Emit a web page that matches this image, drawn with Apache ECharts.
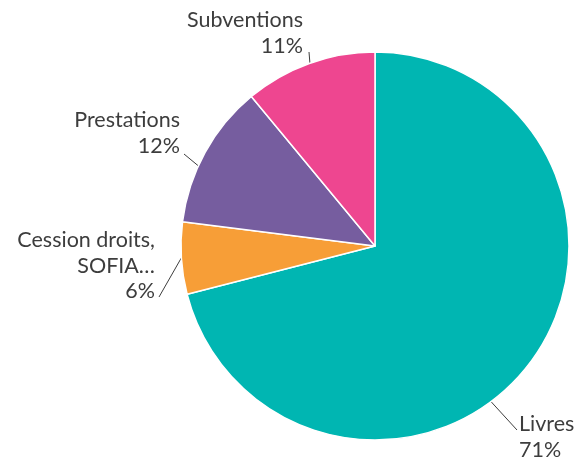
<!DOCTYPE html>
<html>
<head>
<meta charset="utf-8">
<script src="https://cdn.jsdelivr.net/npm/echarts@6/dist/echarts.min.js"></script>
<style>
html,body{margin:0;padding:0;background:#fff;}
#chart{width:574px;height:457px;}
</style>
</head>
<body>
<div id="chart"></div>
<script>
// Data
var categories = ['Livres', 'Cession droits,\nSOFIA…', 'Prestations', 'Subventions'];
var values = [71, 6, 12, 11];
var colors = ['#00B6B2', '#F79E37', '#765D9F', '#EE4690'];

// Layout
var CX = 375, CY = 246, R = 194;
// label text anchor, and guide line: angle on the rim (deg, math convention) + end offset from label anchor
var labelPos = [
  {x: 519, y: 437, align: 'left',  rim: -53.3, ex: -2, ey: -7},
  {x: 155, y: 266, align: 'right', rim: 183.5, ex: 4,  ey: 31},
  {x: 180, y: 133, align: 'right', rim: 155.6, ex: 4,  ey: 21},
  {x: 303, y: 33,  align: 'right', rim: 109.6, ex: 6,  ey: 19}
];

var chart = echarts.init(document.getElementById('chart'));
chart.setOption({
  animation: false,
  series: [{
    type: 'pie',
    center: [CX, CY],
    radius: [0, R],
    startAngle: 90,
    clockwise: true,
    percentPrecision: 0,
    data: categories.map(function (c, i) {
      return {name: c, value: values[i], itemStyle: {color: colors[i]}};
    }),
    itemStyle: {borderColor: '#fff', borderWidth: 1.5},
    label: {
      show: true,
      formatter: '{b}\n{d}%',
      fontFamily: 'Lato',
      fontSize: 21.5,
      lineHeight: 25.5,
      color: '#3d3d3d',
      overflow: 'none'
    },
    labelLine: {
      show: true,
      length: 12,
      length2: 0,
      lineStyle: {color: '#3d3d3d', width: 1}
    },
    labelLayout: function (params) {
      var p = labelPos[params.dataIndex];
      var a = p.rim * Math.PI / 180;
      var sx = CX + R * Math.cos(a), sy = CY - R * Math.sin(a);
      return {
        x: p.x, y: p.y, align: p.align, verticalAlign: 'middle',
        labelLinePoints: [[sx, sy], [p.x + p.ex, p.y + p.ey]]
      };
    }
  }]
});
</script>
</body>
</html>
